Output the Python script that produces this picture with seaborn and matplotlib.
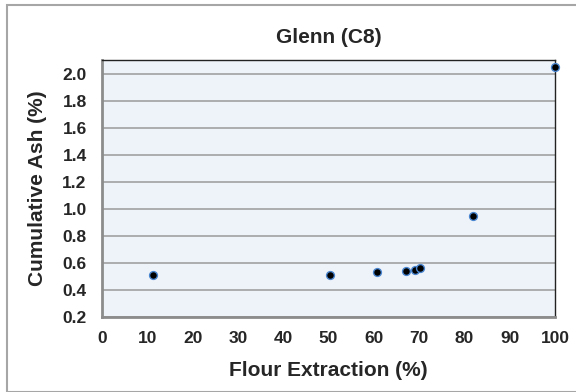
import matplotlib
matplotlib.use("Agg")
import matplotlib.pyplot as plt
import seaborn as sns
import pandas as pd
from matplotlib.patches import Rectangle

# Glenn (C8) milling stream data
extraction = [11.3, 50.3, 60.6, 67.0, 69.1, 70.3, 81.8, 100.0]
cum_ash = [0.51, 0.51, 0.53, 0.54, 0.55, 0.56, 0.95, 2.05]
x_ticks = [0, 10, 20, 30, 40, 50, 60, 70, 80, 90, 100]
y_ticks = [0.2, 0.4, 0.6, 0.8, 1.0, 1.2, 1.4, 1.6, 1.8, 2.0]

df = pd.DataFrame({"extraction": extraction, "ash": cum_ash})

sns.set_style("white")
plt.rcParams["font.family"] = ["Liberation Sans", "DejaVu Sans"]

fig = plt.figure(figsize=(5.76, 3.92), dpi=100)
fig.patches.append(Rectangle((7 / 576, 0), 1.0, 1 - 5 / 392, transform=fig.transFigure,
                             fill=False, edgecolor="#a6a6a6", linewidth=1.5))
ax = fig.add_axes([102 / 576, 1 - 317 / 392, (555 - 102) / 576, (317 - 60) / 392])
ax.set_facecolor("#eef3fa")

sns.scatterplot(data=df, x="extraction", y="ash", ax=ax, s=32, color="black",
                edgecolor="#4a86d0", linewidth=1.0, zorder=5, clip_on=False)

ax.set_xlim(0, 100)
ax.set_ylim(0.2, 2.1)
ax.set_xticks(x_ticks)
ax.set_yticks(y_ticks)
ax.set_xticklabels([str(v) for v in x_ticks], fontsize=12.5, fontweight="bold")
ax.set_yticklabels([f"{v:.1f}" for v in y_ticks], fontsize=12.5, fontweight="bold")
ax.yaxis.grid(True, color="#9a9a9a", linewidth=1.1)
ax.xaxis.grid(False)
ax.set_axisbelow(True)
ax.tick_params(axis="x", direction="in", length=4, width=1, color="#8a8a8a", pad=10)
ax.tick_params(axis="y", length=0, pad=11)

for side in ("left", "bottom"):
    ax.spines[side].set_color("#8c8c8c")
    ax.spines[side].set_linewidth(2)
for side in ("top", "right"):
    ax.spines[side].set_visible(True)
    ax.spines[side].set_color("#222222")
    ax.spines[side].set_linewidth(1)

ax.set_title("Glenn (C8)", fontsize=15, fontweight="bold", pad=12)
ax.set_xlabel("Flour Extraction (%)", fontsize=15, fontweight="bold", labelpad=11)
ax.set_ylabel("Cumulative Ash (%)", fontsize=15, fontweight="bold", labelpad=11)

fig.savefig("out.png", dpi=100)
